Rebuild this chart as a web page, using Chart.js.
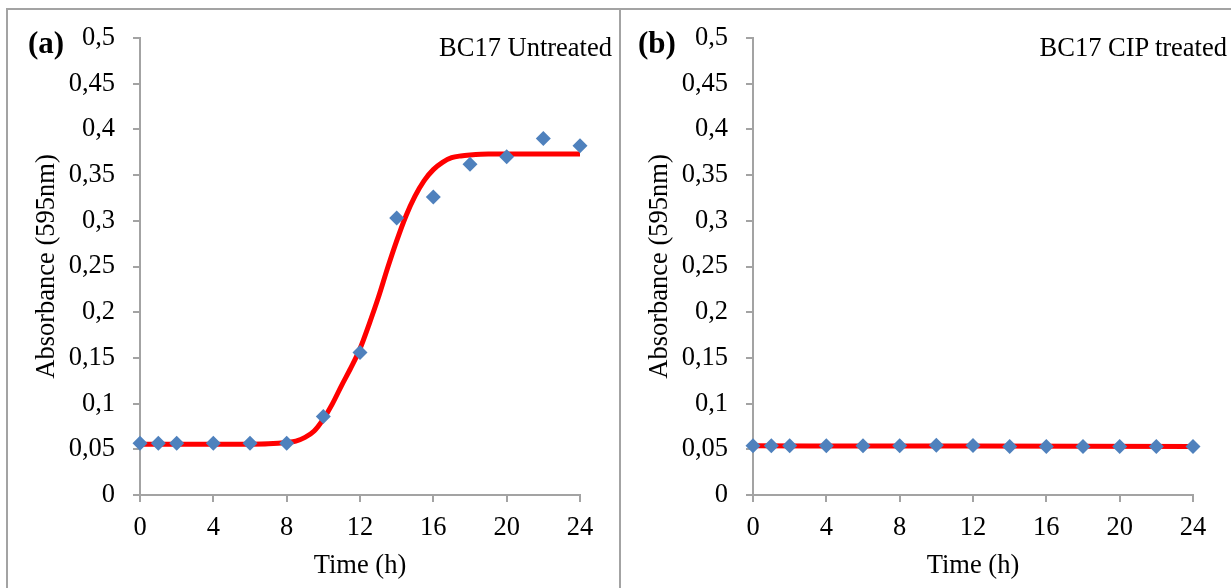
<!DOCTYPE html>
<html>
<head>
<meta charset="utf-8">
<script src="https://cdn.jsdelivr.net/npm/chart.js@4.4.1/dist/chart.umd.min.js"></script>
<style>
  html, body { margin: 0; padding: 0; background: #fff; }
  body { width: 1231px; height: 588px; position: relative; overflow: hidden; font-family: "Liberation Serif", "Times New Roman", serif; }
  .frame { position: absolute; border: 2px solid #a3a3a3; }
  #frameA { left: 6px; top: 8px; width: 611px; height: 640px; }
  #frameB { left: 619px; top: 8px; width: 700px; height: 640px; border-left: none; }
  canvas { position: absolute; top: 0; }
  #chartA { left: 0; }
  #chartB { left: 613px; }
  .tag { position: absolute; font-weight: bold; font-size: 31px; line-height: 1; color: #000; }
  .note { position: absolute; font-size: 26.5px; line-height: 1; color: #000; white-space: nowrap; }
</style>
</head>
<body>
<div class="frame" id="frameA"></div>
<div class="frame" id="frameB"></div>
<canvas id="chartA" width="620" height="588"></canvas>
<canvas id="chartB" width="618" height="588"></canvas>
<div class="tag" style="left:28px; top:27px;">(a)</div>
<div class="tag" style="left:638px; top:27px;">(b)</div>
<div class="note" style="right:619px; top:34px;">BC17 Untreated</div>
<div class="note" style="right:4px; top:34px;">BC17 CIP treated</div>
<script>
// Sampling times (h) of the absorbance readings
const hours = [0, 1, 2, 4, 6, 8, 10, 12, 14, 16, 18, 20, 22, 24];

// Measured absorbance at 595 nm
const absUntreated = [0.0565, 0.0565, 0.0565, 0.0565, 0.0565, 0.0565, 0.086, 0.156, 0.303, 0.326, 0.362, 0.370, 0.390, 0.382];
const absTreated   = [0.054, 0.054, 0.054, 0.054, 0.054, 0.054, 0.0543, 0.0541, 0.053, 0.053, 0.053, 0.053, 0.053, 0.053];

// Fitted growth curves (time, absorbance)
const fitHoursA = [0, 2, 4, 6, 7, 8, 8.5, 9, 9.5, 10, 10.5, 11, 11.5, 12, 12.5, 13, 13.5, 14, 14.5, 15, 15.5, 16, 16.5, 17, 17.5, 18, 19, 20, 22, 24];
const fitUntreated = [0.0555, 0.0555, 0.0555, 0.0556, 0.0560, 0.0575, 0.059, 0.063, 0.070, 0.083, 0.100, 0.120, 0.139, 0.160, 0.187, 0.216, 0.248, 0.278, 0.305, 0.327, 0.344, 0.356, 0.364, 0.369, 0.371, 0.372, 0.373, 0.373, 0.373, 0.373];
const fitHoursB = [0, 12, 24];
const fitTreated = [0.0538, 0.0535, 0.0531];

// Axis tick labels
const yTickLabels = ['0', '0,05', '0,1', '0,15', '0,2', '0,25', '0,3', '0,35', '0,4', '0,45', '0,5'];
const xTickLabels = ['0', '4', '8', '12', '16', '20', '24'];

const AXIS_GREY = '#a3a3a3';
const FONT = 'Liberation Serif';
const FONT_SIZE = 26.5;
Chart.defaults.color = '#000';
Chart.defaults.font.family = FONT;

function pairs(xs, ys) { return xs.map((x, i) => ({ x: x, y: ys[i] })); }

function makeChart(id, pts, fitX, fitY, padRight) {
  return new Chart(document.getElementById(id), {
    type: 'line',
    data: {
      datasets: [
        {
          data: pairs(hours, pts),
          showLine: false,
          pointStyle: 'rectRot',
          pointRadius: 7.5,
          pointHoverRadius: 7.5,
          pointBackgroundColor: '#4f81bd',
          pointBorderColor: '#4f81bd',
          pointBorderWidth: 0,
          clip: false,
          order: 0
        },
        {
          data: pairs(fitX, fitY),
          borderColor: '#ff0000',
          borderWidth: 5,
          pointRadius: 0,
          cubicInterpolationMode: 'monotone',
          fill: false,
          clip: false,
          order: 1
        }
      ]
    },
    options: {
      responsive: false,
      animation: false,
      devicePixelRatio: 1,
      events: [],
      layout: { padding: { left: 0, right: padRight, top: 38, bottom: 0 } },
      plugins: { legend: { display: false }, tooltip: { enabled: false } },
      scales: {
        x: {
          type: 'linear',
          min: 0, max: 24,
          afterFit: s => { s.height = 93; },
          ticks: {
            stepSize: 4,
            padding: 10,
            font: { size: FONT_SIZE, family: FONT },
            callback: (v, i) => xTickLabels[i]
          },
          grid: { drawOnChartArea: false, drawTicks: true, tickLength: 7, color: AXIS_GREY, lineWidth: 2 },
          border: { color: AXIS_GREY, width: 2 },
          title: { display: true, text: 'Time (h)', font: { size: FONT_SIZE, family: FONT }, padding: { top: 0, bottom: 6 } }
        },
        y: {
          min: 0, max: 0.5,
          afterFit: s => { s.width = 140; },
          ticks: {
            stepSize: 0.05,
            padding: 18,
            font: { size: FONT_SIZE, family: FONT },
            callback: (v, i) => yTickLabels[i]
          },
          grid: { drawOnChartArea: false, drawTicks: true, tickLength: 7, color: AXIS_GREY, lineWidth: 2 },
          border: { color: AXIS_GREY, width: 2 },
          title: { display: true, text: 'Absorbance (595nm)', font: { size: FONT_SIZE, family: FONT }, padding: { top: 31, bottom: 0 } }
        }
      }
    }
  });
}

makeChart('chartA', absUntreated, fitHoursA, fitUntreated, 40);
makeChart('chartB', absTreated, fitHoursB, fitTreated, 38);
</script>
</body>
</html>
